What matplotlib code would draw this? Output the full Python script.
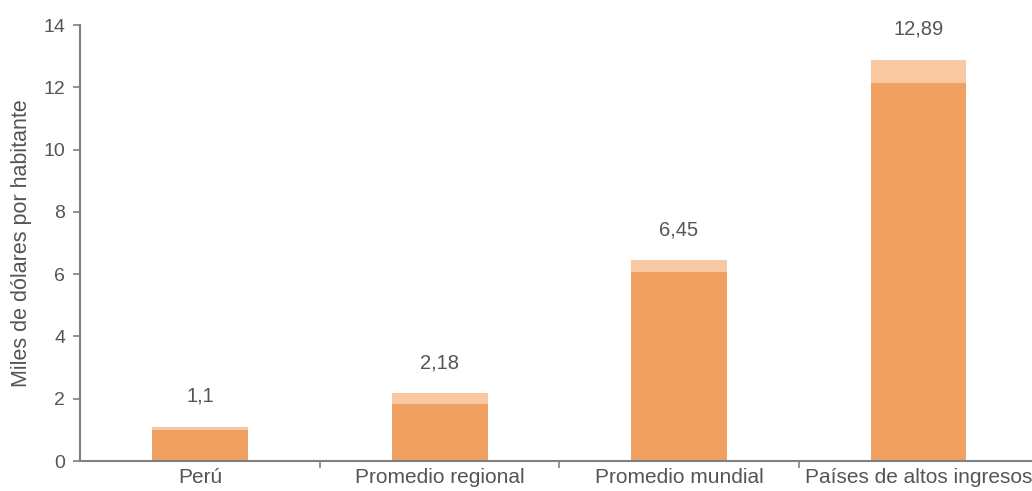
import matplotlib
matplotlib.use("Agg")
import matplotlib.pyplot as plt
import numpy as np

categories = ["Perú", "Promedio regional", "Promedio mundial", "Países de altos ingresos"]
totals = [1.1, 2.18, 6.45, 12.89]
base = [1.0, 1.83, 6.08, 12.13]
labels = ["1,1", "2,18", "6,45", "12,89"]

plt.rcParams["font.family"] = ["Liberation Sans", "DejaVu Sans"]
txt_col = "#555555"
axis_col = "#808080"

fig = plt.figure(figsize=(10.32, 4.91), dpi=100)
ax = fig.add_axes([0.078, 0.061, 0.928, 0.888])

x = np.arange(len(categories))
upper = [t - b for t, b in zip(totals, base)]
ax.bar(x, base, width=0.4, color="#F0A060", zorder=2)
ax.bar(x, upper, bottom=base, width=0.4, color="#F7C8A1", zorder=2)

for xi, t, lab in zip(x, totals, labels):
    ax.annotate(lab, (xi, t), xytext=(0, 22), textcoords="offset points",
                ha="center", va="center", fontsize=14.5, color=txt_col)

ax.set_xlim(-0.5, 3.5)
ax.set_ylim(0, 14)
ax.set_yticks(range(0, 15, 2))
ax.set_xticks(x)
ax.set_xticklabels(categories)
ax.set_xticks([0.5, 1.5, 2.5], minor=True)
ax.tick_params(axis="x", which="major", length=0, pad=5, labelsize=15, labelcolor=txt_col)
ax.tick_params(axis="x", which="minor", length=5, width=1.2, color=axis_col)
ax.tick_params(axis="y", length=5, width=1.2, color=axis_col, labelsize=14,
               labelcolor=txt_col, pad=6)
ax.set_ylabel("Miles de dólares por habitante", fontsize=15.5, color=txt_col, labelpad=8)

for s in ("top", "right"):
    ax.spines[s].set_visible(False)
for s in ("left", "bottom"):
    ax.spines[s].set_color(axis_col)
    ax.spines[s].set_linewidth(1.5)

fig.savefig("out.png", dpi=100)
